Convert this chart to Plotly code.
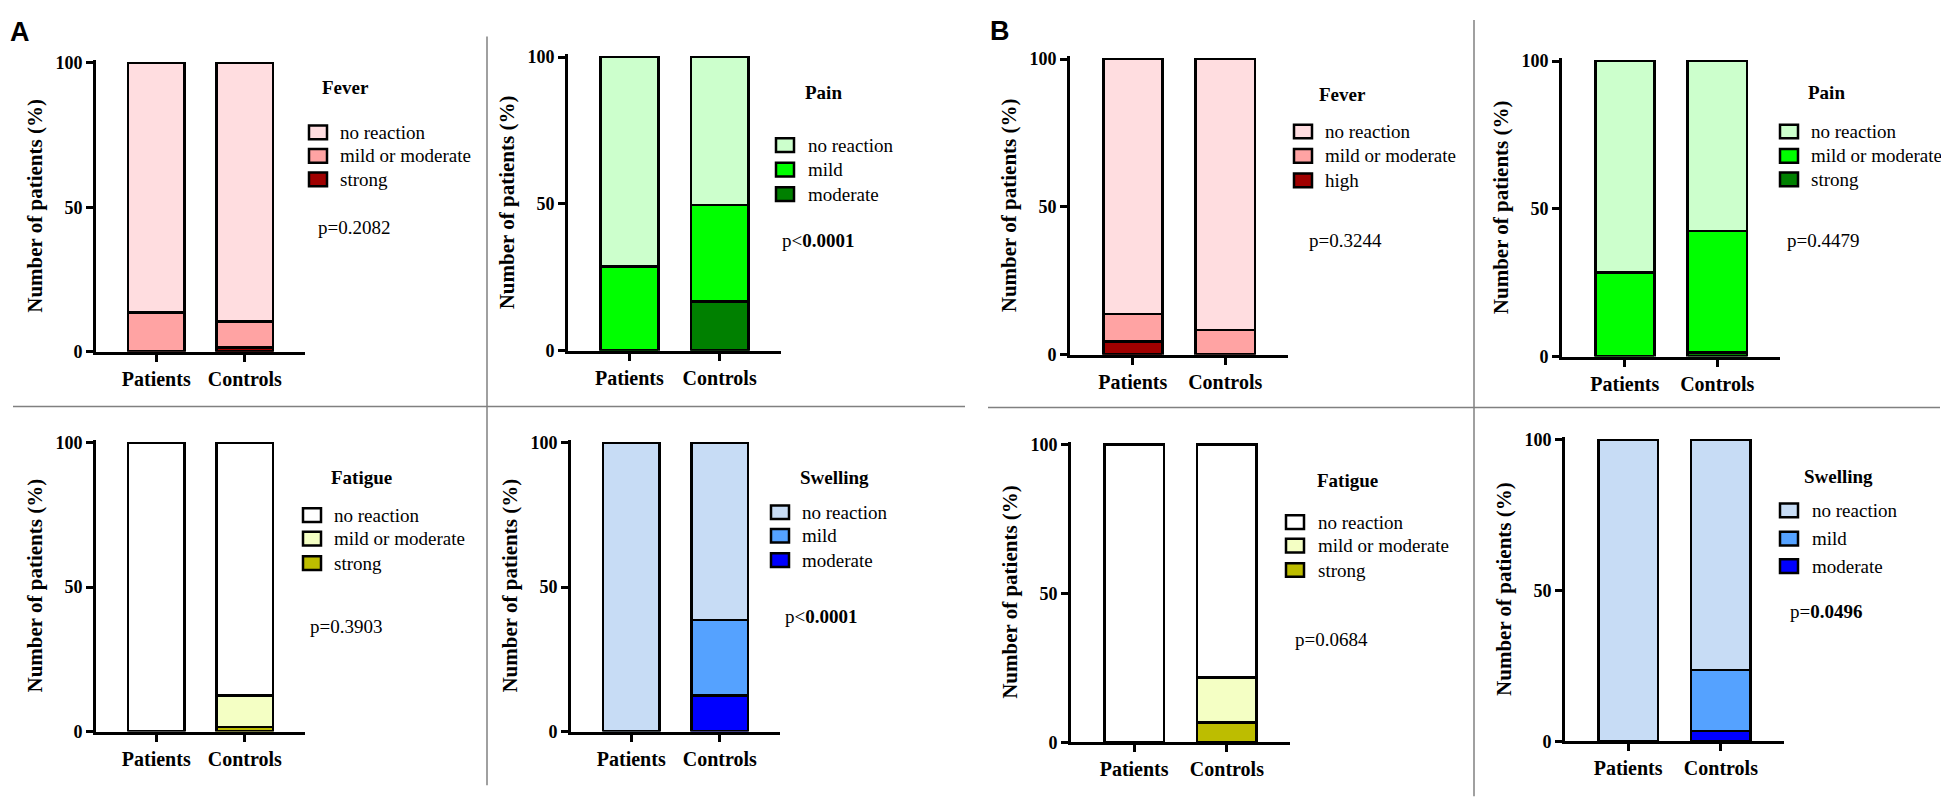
import plotly.graph_objects as go

W, H = 1949, 804

groups = ['Patients', 'Controls']

# stacked values, bottom layer first: [Patients, Controls]
a_fever_strong = [0, 1.5]
a_fever_mild = [13.6, 9.0]
a_fever_none = [86.4, 89.5]

a_pain_moderate = [0, 16.7]
a_pain_mild = [28.7, 33.0]
a_pain_none = [71.3, 50.3]

a_fatigue_strong = [0, 1.5]
a_fatigue_mild = [0, 10.9]
a_fatigue_none = [100, 87.6]

a_swelling_moderate = [0, 12.5]
a_swelling_mild = [0, 26.2]
a_swelling_none = [100, 61.3]

b_fever_high = [4.5, 0]
b_fever_mild = [9.2, 8.4]
b_fever_none = [86.3, 91.6]

b_pain_strong = [0, 1.4]
b_pain_mild = [28.4, 41.1]
b_pain_none = [71.6, 57.5]

b_fatigue_strong = [0, 6.6]
b_fatigue_mild = [0, 15.1]
b_fatigue_none = [100, 78.3]

b_swelling_moderate = [0, 3.5]
b_swelling_mild = [0, 20.2]
b_swelling_none = [100, 76.3]

# legend labels, top to bottom
labels_fever_a = ['no reaction', 'mild or moderate', 'strong']
labels_pain_a = ['no reaction', 'mild', 'moderate']
labels_fatigue = ['no reaction', 'mild or moderate', 'strong']
labels_swelling = ['no reaction', 'mild', 'moderate']
labels_fever_b = ['no reaction', 'mild or moderate', 'high']
labels_pain_b = ['no reaction', 'mild or moderate', 'strong']

p_values = ['p=0.2082', 'p&lt;<b>0.0001</b>', 'p=0.3903', 'p&lt;<b>0.0001</b>',
            'p=0.3244', 'p=0.4479', 'p=0.0684', 'p=<b>0.0496</b>']

# colours: no reaction, mild, strong
fever_colors = ['#FFDDE0', '#FFA3A3', '#A00000']
pain_colors = ['#CCFFCC', '#00FF00', '#008000']
fatigue_colors = ['#FFFFFF', '#F4FFC4', '#BDBD00']
swelling_colors = ['#C7DCF5', '#55A2FF', '#0000FF']

# layout in pixels: axis x0, x1, y(0), y(100), legend title xy, swatch x, item ys, text x, p xy
panels = [
    dict(title='Fever', data=[a_fever_strong, a_fever_mild, a_fever_none], labels=labels_fever_a,
         colors=fever_colors, ax=(88, 297, 344, 49), tt=(312, 74), sw=301, items=(120, 144, 168), tx=330, p=(308, 217)),
    dict(title='Pain', data=[a_pain_moderate, a_pain_mild, a_pain_none], labels=labels_pain_a,
         colors=pain_colors, ax=(560, 773, 343, 43), tt=(795, 79), sw=768, items=(133, 158, 183), tx=798, p=(772, 230)),
    dict(title='Fatigue', data=[a_fatigue_strong, a_fatigue_mild, a_fatigue_none], labels=labels_fatigue,
         colors=fatigue_colors, ax=(88, 297, 732, 437), tt=(321, 473), sw=295, items=(511, 535, 560), tx=324, p=(300, 625)),
    dict(title='Swelling', data=[a_swelling_moderate, a_swelling_mild, a_swelling_none], labels=labels_swelling,
         colors=swelling_colors, ax=(563, 772, 732, 437), tt=(790, 473), sw=763, items=(508, 532, 557), tx=792, p=(775, 615)),
    dict(title='Fever', data=[b_fever_high, b_fever_mild, b_fever_none], labels=labels_fever_b,
         colors=fever_colors, ax=(1062, 1280, 347, 45), tt=(1309, 81), sw=1286, items=(119, 144, 169), tx=1315, p=(1299, 230)),
    dict(title='Pain', data=[b_pain_strong, b_pain_mild, b_pain_none], labels=labels_pain_b,
         colors=pain_colors, ax=(1554, 1772, 349, 47), tt=(1798, 79), sw=1772, items=(119, 144, 168), tx=1801, p=(1777, 230)),
    dict(title='Fatigue', data=[b_fatigue_strong, b_fatigue_mild, b_fatigue_none], labels=labels_fatigue,
         colors=fatigue_colors, ax=(1063, 1282, 743, 439), tt=(1307, 476), sw=1278, items=(518, 542, 567), tx=1308, p=(1285, 638)),
    dict(title='Swelling', data=[b_swelling_moderate, b_swelling_mild, b_swelling_none], labels=labels_swelling,
         colors=swelling_colors, ax=(1557, 1776, 742, 434), tt=(1794, 471), sw=1772, items=(506, 535, 563), tx=1802, p=(1780, 609)),
]

SERIF = '"Liberation Serif", "Times New Roman", Times, serif'
YTOP = 101


def px_x(v):
    return v / W


def px_y(v):
    return 1 - v / H


fig = go.Figure()
shapes = []
annotations = []
layout = {}

for i, pn in enumerate(panels):
    n = i + 1
    xa = 'x' if n == 1 else f'x{n}'
    ya = 'y' if n == 1 else f'y{n}'
    x0, x1, y0, y100 = pn['ax']
    ytop = y0 - (y0 - y100) * YTOP / 100
    layout['xaxis' if n == 1 else f'xaxis{n}'] = dict(
        domain=[px_x(x0), px_x(x1)], anchor=ya, range=[-0.68, 1.68],
        type='category', categoryorder='array', categoryarray=groups,
        showline=True, linewidth=3, linecolor='black', showgrid=False, zeroline=False,
        ticks='outside', ticklen=7, tickwidth=3, tickcolor='black',
        tickfont=dict(family=SERIF, size=20, color='black', weight='bold'))
    layout['yaxis' if n == 1 else f'yaxis{n}'] = dict(
        domain=[px_y(y0), px_y(ytop)], anchor=xa, range=[0, YTOP],
        tickvals=[0, 50, 100], showline=True, linewidth=3, linecolor='black',
        showgrid=False, zeroline=False,
        ticks='outside', ticklen=7, tickwidth=3, tickcolor='black',
        tickfont=dict(family=SERIF, size=18, color='black', weight='bold'),
        title=dict(text='Number of patients (%)', standoff=8,
                   font=dict(family=SERIF, size=21, color='black', weight='bold')))

    # stacked bars, bottom layer first; colours/labels are listed top to bottom
    for k in range(3):
        fig.add_trace(go.Bar(
            x=groups, y=pn['data'][k], xaxis=xa, yaxis=ya, width=0.64,
            name=pn['labels'][2 - k], showlegend=False,
            marker=dict(color=pn['colors'][2 - k], line=dict(color='black', width=2.5))))

    annotations.append(dict(x=px_x(pn['tt'][0]), y=px_y(pn['tt'][1]), xref='paper', yref='paper',
                            text=f"<b>{pn['title']}</b>", showarrow=False, xanchor='left', yanchor='middle',
                            font=dict(family=SERIF, size=19, color='black')))
    for j, lab in enumerate(pn['labels']):
        cy = pn['items'][j]
        shapes.append(dict(type='rect', xref='paper', yref='paper',
                           x0=px_x(pn['sw']), x1=px_x(pn['sw'] + 18),
                           y0=px_y(cy - 7), y1=px_y(cy + 7),
                           fillcolor=pn['colors'][j], line=dict(color='black', width=2.5)))
        annotations.append(dict(x=px_x(pn['tx']), y=px_y(cy), xref='paper', yref='paper',
                                text=lab, showarrow=False, xanchor='left', yanchor='middle',
                                font=dict(family=SERIF, size=19, color='black')))
    annotations.append(dict(x=px_x(pn['p'][0]), y=px_y(pn['p'][1]), xref='paper', yref='paper',
                            text=p_values[i], showarrow=False, xanchor='left', yanchor='middle',
                            font=dict(family=SERIF, size=19, color='black')))

# divider lines
div = dict(color='#808080', width=1.5)
for (a, b, c, d) in [(479, 22, 479, 787), (5, 400, 957, 400), (1466, 5, 1466, 798), (980, 401, 1932, 401)]:
    shapes.append(dict(type='line', xref='paper', yref='paper',
                       x0=px_x(a), y0=px_y(b), x1=px_x(c), y1=px_y(d), line=div))

for lett, lx, ly in [('A', 0, 17), ('B', 980, 16)]:
    annotations.append(dict(x=px_x(lx), y=px_y(ly), xref='paper', yref='paper', text=f'<b>{lett}</b>',
                            showarrow=False, xanchor='left', yanchor='middle',
                            font=dict(family='Liberation Sans', size=27, color='black')))

fig.update_layout(**layout)
fig.update_layout(barmode='stack', width=W, height=H, margin=dict(l=0, r=0, t=0, b=0),
                  paper_bgcolor='white', plot_bgcolor='white', showlegend=False,
                  shapes=shapes, annotations=annotations)

fig.write_html("out.html")
